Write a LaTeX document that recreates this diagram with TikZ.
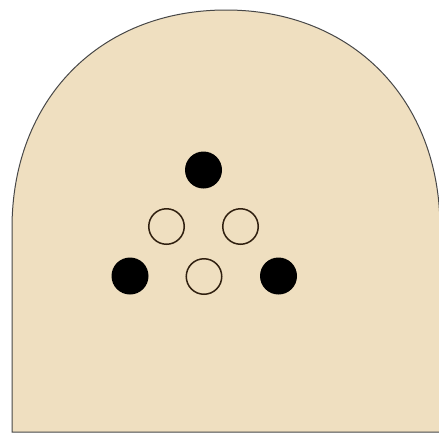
\documentclass[tikz,border=0pt]{standalone}
\begin{document}
\begin{tikzpicture}[x=1pt,y=-1pt,
  soliddot/.style={circle, fill=black, minimum size=37pt, inner sep=0pt},
  hollowdot/.style={circle, draw=black!75!brown, line width=1.5pt, minimum size=35.5pt, inner sep=0pt},
  stone/.style={fill=sand, draw=black!72, line width=1pt}]
\definecolor{sand}{RGB}{239,223,192}
\useasboundingbox (0,0) rectangle (439,437);
\path[stone] (12,432) -- (12,228) .. controls (12,99.4) and (99.7,10) .. (226,10)
  .. controls (352.3,10) and (440,99.4) .. (440,228) -- (440,432) -- cycle;
\node[soliddot] (top) at (203.5,170) {};
\node[soliddot] (left) at (130,276) {};
\node[soliddot] (right) at (278.5,276) {};
\node[hollowdot] (ul) at (166.5,226.5) {};
\node[hollowdot] (ur) at (240.5,226.5) {};
\node[hollowdot] (bottom) at (204,276.5) {};
\end{tikzpicture}
\end{document}
